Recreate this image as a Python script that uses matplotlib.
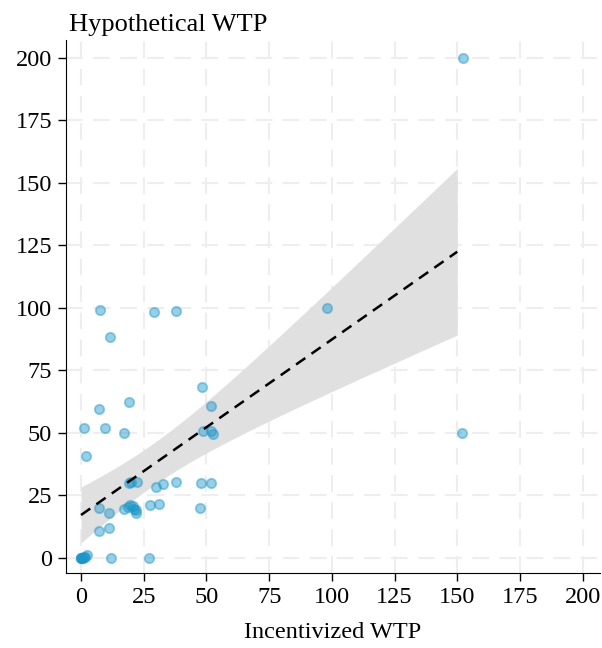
import numpy as np
import matplotlib.pyplot as plt

# incentivized WTP (x) vs hypothetical WTP (y)
incentivized = [0, 0, 0, 0.3, 0.6, 1.0, 1.5, 2.3, 12, 27,
                7.3, 11.3, 7.2, 11.3, 17.3, 18.6, 19.5, 20.6, 21.1, 21.8, 21.9,
                27.5, 31.1, 47.4,
                19.3, 19.9, 22.4, 30, 32.5, 38, 47.8, 52,
                2, 1.1, 9.6, 17, 48.6, 52, 52.6,
                7.2, 19.3, 52, 48.3,
                11.6, 7.5, 29, 37.8, 98, 152, 152.2]
hypothetical = [0, 0, 0, 0, 0.2, 0.3, 0.6, 1.3, 0, 0,
                10.6, 11.8, 20, 18, 19.4, 20.4, 21, 20.7, 19.4, 18, 19.1,
                21.2, 21.6, 19.9,
                30, 30.4, 30.5, 28.3, 29.6, 30.3, 29.8, 29.8,
                40.9, 51.9, 52, 49.9, 50.6, 50.6, 49.4,
                59.4, 62.5, 60.7, 68.5,
                88.4, 99, 98.4, 98.8, 100, 50, 200]

ticks = [0, 25, 50, 75, 100, 125, 150, 175, 200]

x = np.array(incentivized)
y = np.array(hypothetical)

# OLS fit with 95% confidence band for the mean (t quantile, 48 df)
n = len(x)
slope, intercept = np.polyfit(x, y, 1)
resid = y - (intercept + slope * x)
s = np.sqrt(np.sum(resid ** 2) / (n - 2))
xs = np.linspace(0, 150, 200)
ys = intercept + slope * xs
se = s * np.sqrt(1 / n + (xs - x.mean()) ** 2 / np.sum((x - x.mean()) ** 2))
ci = 2.01 * se

plt.rcParams['font.family'] = ['Liberation Serif', 'DejaVu Serif']

fig = plt.figure(figsize=(6.02, 6.48), dpi=100)
ax = fig.add_axes([0.1096, 0.1157, 0.8874, 0.8225])

ax.fill_between(xs, ys - ci, ys + ci, color='#e0e0e0', lw=0, zorder=1)
ax.plot(xs, ys, color='black', ls=(0, (4.5, 3)), lw=1.8, zorder=3)
ax.scatter(x, y, s=46, color='#1c96c8', alpha=0.45, edgecolors='#1c96c8',
           linewidths=1.3, zorder=2)

ax.set_xlim(-6, 207)
ax.set_ylim(-6, 207)
ax.set_xticks(ticks)
ax.set_yticks(ticks)
ax.grid(True, color='#eeeeee', ls=(0, (8, 5)), lw=1.5, zorder=0)
ax.set_axisbelow(True)
for side in ['top', 'right']:
    ax.spines[side].set_visible(False)
ax.tick_params(direction='out', length=6, width=1, labelsize=17.5, pad=4)
ax.set_xlabel('Incentivized WTP', fontsize=17.5, labelpad=10)
fig.text(0.1146, 0.952, 'Hypothetical WTP', fontsize=19, ha='left',
         va='baseline')

fig.savefig('out.png', dpi=100)
